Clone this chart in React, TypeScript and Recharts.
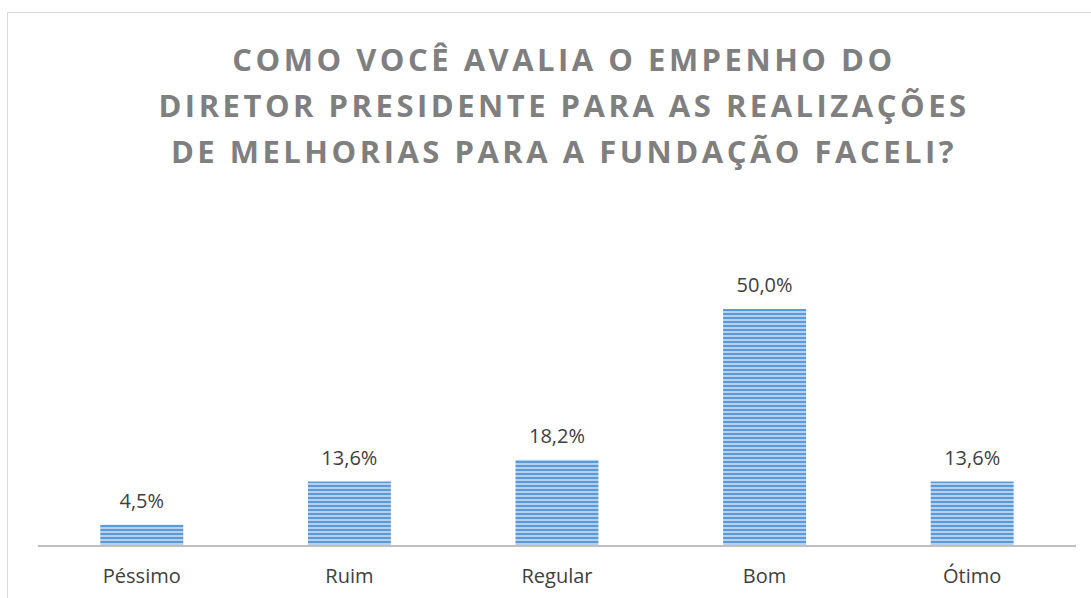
import { BarChart, Bar, XAxis, YAxis, LabelList } from "recharts"

const categories = ["Péssimo", "Ruim", "Regular", "Bom", "Ótimo"]
const percents = [4.5, 13.6, 18.2, 50.0, 13.6]
const titleLines = [
  "COMO VOCÊ AVALIA O EMPENHO DO",
  "DIRETOR PRESIDENTE PARA AS REALIZAÇÕES",
  "DE MELHORIAS PARA A FUNDAÇÃO FACELI?",
]

const data = categories.map((name, i) => ({ name, value: percents[i] }))

const fmt = (v: any) => Number(v).toFixed(1).replace(".", ",") + "%"

export default function App() {
  return (
    <div
      style={{
        position: "absolute",
        left: 7,
        top: 12,
        width: 1084,
        height: 586,
        borderLeft: "1px solid #d9d9d9",
        borderTop: "1px solid #d9d9d9",
        background: "#fff",
        overflow: "hidden",
        fontFamily: "'Open Sans', sans-serif",
      }}
    >
      <svg width="0" height="0" style={{ position: "absolute" }}>
        <defs>
          <pattern id="stripes" width="8" height="4" patternUnits="userSpaceOnUse">
            <rect width="8" height="4" fill="#b4d0ee" />
            <rect width="8" height="2" fill="#5b9bd5" />
          </pattern>
        </defs>
      </svg>
      <div
        style={{
          position: "absolute",
          left: 0,
          width: 1112,
          top: 23,
          textAlign: "center",
          color: "#7f7f7f",
          fontWeight: 700,
          fontSize: 31,
          letterSpacing: 3.5,
          lineHeight: "46px",
        }}
      >
        {titleLines.map((t) => (
          <div key={t}>{t}</div>
        ))}
      </div>
      <BarChart
        width={1084}
        height={586}
        data={data}
        margin={{ top: 296, right: 16, left: 30, bottom: 0 }}
        barCategoryGap="30%"
      >
        <XAxis
          dataKey="name"
          height={53}
          axisLine={{ stroke: "#bfbfbf", strokeWidth: 2 }}
          tickLine={false}
          tick={{ fill: "#404040", fontSize: 20, fontFamily: "'Open Sans', sans-serif", dy: 15 }}
        />
        <YAxis hide domain={[0, 50]} />
        <Bar dataKey="value" fill="url(#stripes)" isAnimationActive={false}>
          <LabelList
            dataKey="value"
            position="top"
            offset={17}
            formatter={fmt}
            fill="#404040"
            fontSize={20}
            fontFamily="'Open Sans', sans-serif"
          />
        </Bar>
      </BarChart>
    </div>
  )
}
